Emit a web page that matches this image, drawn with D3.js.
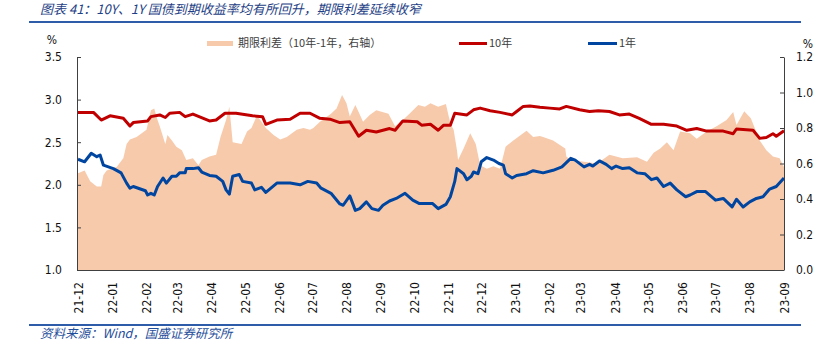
<!DOCTYPE html>
<html><head><meta charset="utf-8">
<script src="https://cdn.jsdelivr.net/npm/d3@7"></script>
<style>
body{margin:0;background:#fff;}
svg{display:block;}
</style></head>
<body><svg id="c" width="831" height="355"></svg>
<script>
const titleText = "图表 41：10Y、1Y 国债到期收益率均有所回升，期限利差延续收窄";
const sourceText = "资料来源：Wind，国盛证券研究所";
const legendLabels = ["期限利差（10年-1年，右轴）", "10年", "1年"];
const leftTicks = [1.0, 1.5, 2.0, 2.5, 3.0, 3.5];
const rightTicks = [0.0, 0.2, 0.4, 0.6, 0.8, 1.0, 1.2];
const monthTicks = ["2021-12","2022-01","2022-02","2022-03","2022-04","2022-05","2022-06","2022-07","2022-08","2022-09","2022-10","2022-11","2022-12","2023-01","2023-02","2023-03","2023-04","2023-05","2023-06","2023-07","2023-08","2023-09"];

const tenYear = [
["2021-12-01",2.85],["2021-12-15",2.85],["2021-12-22",2.76],["2021-12-30",2.81],["2022-01-11",2.78],["2022-01-17",2.69],["2022-01-20",2.73],["2022-02-02",2.75],["2022-02-05",2.80],["2022-02-13",2.82],["2022-02-18",2.79],["2022-02-22",2.84],["2022-03-03",2.85],["2022-03-08",2.80],["2022-03-15",2.83],["2022-03-30",2.75],["2022-04-05",2.76],["2022-04-13",2.84],["2022-04-23",2.84],["2022-05-08",2.81],["2022-05-17",2.80],["2022-05-20",2.71],["2022-05-30",2.76],["2022-06-11",2.77],["2022-06-20",2.84],["2022-06-29",2.84],["2022-07-08",2.78],["2022-07-17",2.77],["2022-07-26",2.73],["2022-08-04",2.74],["2022-08-12",2.57],["2022-08-19",2.64],["2022-08-28",2.62],["2022-09-09",2.66],["2022-09-14",2.64],["2022-09-21",2.75],["2022-10-04",2.74],["2022-10-08",2.70],["2022-10-16",2.71],["2022-10-23",2.64],["2022-10-28",2.70],["2022-11-03",2.70],["2022-11-07",2.84],["2022-11-18",2.82],["2022-11-24",2.88],["2022-11-30",2.90],["2022-12-09",2.87],["2022-12-18",2.85],["2022-12-29",2.82],["2023-01-02",2.86],["2023-01-08",2.92],["2023-01-14",2.925],["2023-01-23",2.91],["2023-02-01",2.90],["2023-02-10",2.89],["2023-02-16",2.92],["2023-02-28",2.88],["2023-03-09",2.86],["2023-03-17",2.87],["2023-03-27",2.86],["2023-04-05",2.82],["2023-04-14",2.83],["2023-04-23",2.78],["2023-05-04",2.71],["2023-05-15",2.71],["2023-05-27",2.69],["2023-06-05",2.64],["2023-06-14",2.66],["2023-06-23",2.63],["2023-07-08",2.63],["2023-07-17",2.60],["2023-07-20",2.655],["2023-08-04",2.64],["2023-08-10",2.545],["2023-08-16",2.555],["2023-08-22",2.60],["2023-08-25",2.57],["2023-09-01",2.635]
];

const oneYear = [
["2021-12-01",2.30],["2021-12-07",2.27],["2021-12-13",2.37],["2021-12-18",2.33],["2021-12-21",2.35],["2021-12-24",2.23],["2022-01-02",2.19],["2022-01-09",2.14],["2022-01-14",2.02],["2022-01-17",1.96],["2022-01-20",1.98],["2022-01-31",1.93],["2022-02-02",1.88],["2022-02-05",1.90],["2022-02-08",1.88],["2022-02-11",1.98],["2022-02-16",2.08],["2022-02-19",2.02],["2022-02-24",2.10],["2022-02-28",2.10],["2022-03-03",2.14],["2022-03-08",2.14],["2022-03-09",2.19],["2022-03-15",2.19],["2022-03-20",2.20],["2022-03-23",2.15],["2022-03-30",2.11],["2022-04-05",2.10],["2022-04-11",2.04],["2022-04-14",1.94],["2022-04-17",1.89],["2022-04-20",2.10],["2022-04-26",2.12],["2022-04-29",2.04],["2022-05-07",2.02],["2022-05-10",1.94],["2022-05-16",1.97],["2022-05-20",1.91],["2022-05-30",2.02],["2022-06-11",2.02],["2022-06-20",2.00],["2022-06-27",2.04],["2022-07-05",2.02],["2022-07-09",1.96],["2022-07-18",1.90],["2022-07-26",1.775],["2022-07-29",1.76],["2022-08-04",1.87],["2022-08-09",1.70],["2022-08-13",1.72],["2022-08-19",1.80],["2022-08-24",1.72],["2022-08-30",1.70],["2022-09-03",1.76],["2022-09-09",1.81],["2022-09-15",1.84],["2022-09-23",1.90],["2022-09-30",1.82],["2022-10-06",1.78],["2022-10-18",1.78],["2022-10-23",1.72],["2022-10-30",1.77],["2022-11-03",1.86],["2022-11-07",2.04],["2022-11-09",2.19],["2022-11-15",2.13],["2022-11-18",2.06],["2022-11-22",2.10],["2022-11-24",2.15],["2022-11-28",2.13],["2022-12-01",2.27],["2022-12-06",2.32],["2022-12-12",2.29],["2022-12-17",2.25],["2022-12-21",2.23],["2022-12-23",2.13],["2022-12-29",2.08],["2023-01-02",2.11],["2023-01-11",2.13],["2023-01-17",2.165],["2023-01-26",2.14],["2023-02-04",2.17],["2023-02-12",2.21],["2023-02-20",2.31],["2023-02-24",2.29],["2023-03-04",2.21],["2023-03-09",2.24],["2023-03-12",2.22],["2023-03-18",2.28],["2023-03-24",2.24],["2023-03-29",2.19],["2023-04-02",2.22],["2023-04-08",2.19],["2023-04-14",2.20],["2023-04-21",2.14],["2023-04-28",2.13],["2023-05-04",2.06],["2023-05-09",2.08],["2023-05-15",1.98],["2023-05-21",2.02],["2023-05-27",1.94],["2023-06-04",1.86],["2023-06-08",1.88],["2023-06-14",1.92],["2023-06-22",1.92],["2023-07-01",1.82],["2023-07-08",1.84],["2023-07-16",1.74],["2023-07-20",1.83],["2023-07-26",1.74],["2023-08-01",1.80],["2023-08-07",1.84],["2023-08-13",1.86],["2023-08-19",1.95],["2023-08-25",1.98],["2023-09-01",2.08]
];

const termSpread = [
["2021-12-01",0.545],["2021-12-07",0.56],["2021-12-12",0.50],["2021-12-18",0.47],["2021-12-22",0.47],["2021-12-24",0.535],["2021-12-27",0.56],["2022-01-05",0.58],["2022-01-11",0.63],["2022-01-14",0.71],["2022-01-17",0.735],["2022-01-23",0.75],["2022-02-01",0.79],["2022-02-05",0.90],["2022-02-08",0.91],["2022-02-11",0.845],["2022-02-13",0.81],["2022-02-18",0.71],["2022-02-20",0.76],["2022-02-24",0.73],["2022-02-28",0.695],["2022-03-05",0.675],["2022-03-09",0.62],["2022-03-15",0.63],["2022-03-20",0.59],["2022-03-23",0.62],["2022-03-30",0.64],["2022-04-05",0.65],["2022-04-09",0.75],["2022-04-14",0.845],["2022-04-17",0.92],["2022-04-20",0.72],["2022-04-28",0.71],["2022-05-03",0.78],["2022-05-07",0.80],["2022-05-12",0.87],["2022-05-16",0.835],["2022-05-20",0.80],["2022-05-27",0.76],["2022-06-02",0.735],["2022-06-08",0.75],["2022-06-17",0.79],["2022-06-23",0.80],["2022-06-29",0.79],["2022-07-02",0.80],["2022-07-08",0.835],["2022-07-18",0.88],["2022-07-23",0.91],["2022-07-28",0.986],["2022-08-01",0.94],["2022-08-04",0.865],["2022-08-09",0.93],["2022-08-12",0.89],["2022-08-16",0.835],["2022-08-22",0.873],["2022-08-28",0.90],["2022-09-08",0.88],["2022-09-14",0.81],["2022-09-21",0.845],["2022-09-27",0.88],["2022-10-05",0.93],["2022-10-11",0.92],["2022-10-16",0.94],["2022-10-23",0.92],["2022-10-30",0.935],["2022-11-03",0.826],["2022-11-06",0.79],["2022-11-09",0.675],["2022-11-10",0.62],["2022-11-15",0.685],["2022-11-21",0.77],["2022-11-26",0.71],["2022-11-30",0.59],["2022-12-06",0.57],["2022-12-12",0.585],["2022-12-18",0.57],["2022-12-23",0.695],["2022-12-30",0.73],["2023-01-11",0.785],["2023-01-17",0.75],["2023-01-23",0.755],["2023-01-26",0.75],["2023-02-04",0.73],["2023-02-15",0.685],["2023-02-16",0.64],["2023-02-20",0.62],["2023-03-04",0.61],["2023-03-16",0.60],["2023-03-27",0.65],["2023-04-08",0.63],["2023-04-21",0.635],["2023-04-30",0.61],["2023-05-06",0.66],["2023-05-12",0.685],["2023-05-18",0.72],["2023-05-24",0.675],["2023-05-30",0.78],["2023-06-08",0.77],["2023-06-14",0.74],["2023-06-23",0.78],["2023-07-02",0.81],["2023-07-11",0.845],["2023-07-17",0.89],["2023-07-20",0.817],["2023-07-27",0.895],["2023-08-02",0.855],["2023-08-10",0.73],["2023-08-16",0.675],["2023-08-22",0.64],["2023-08-28",0.63],["2023-09-01",0.58]
];

const parse = d3.timeParse("%Y-%m-%d");
const parseM = d3.timeParse("%Y-%m");
const svg = d3.select("#c");
const L = 77, R = 784, T = 57, B = 270;

const x = d3.scaleTime().domain([parse("2021-12-01"), parse("2023-09-01")]).range([L + 1, R]);
const yL = d3.scaleLinear().domain([1.0, 3.5]).range([B, T]);
const yR = d3.scaleLinear().domain([0, 1.2]).range([B, T]);

const font = "'DejaVu Sans Condensed','DejaVu Sans',sans-serif";
const cjk = "'Noto Sans CJK SC','Noto Sans',sans-serif";

// title
svg.append("text").attr("x", 40).attr("y", 14).attr("font-family", cjk).attr("font-size", 13)
  .attr("font-style", "italic").attr("fill", "#1f3f86").text(titleText);
svg.append("line").attr("x1", 29).attr("x2", 801).attr("y1", 22).attr("y2", 22)
  .attr("stroke", "#2e5ca8").attr("stroke-width", 2);

// area
const area = d3.area().x(d => x(parse(d[0]))).y0(yR(0)).y1(d => yR(d[1]));
svg.append("path").datum(termSpread).attr("d", area).attr("fill", "#f7caac");

const line10 = d3.line().x(d => x(parse(d[0]))).y(d => yL(d[1]));
svg.append("path").datum(tenYear).attr("d", line10).attr("fill", "none")
  .attr("stroke", "#c00000").attr("stroke-width", 3).attr("stroke-linejoin", "round");
svg.append("path").datum(oneYear).attr("d", line10).attr("fill", "none")
  .attr("stroke", "#0046a0").attr("stroke-width", 3).attr("stroke-linejoin", "round");

// axes
const axColor = "#404040";
const gL = svg.append("g").attr("transform", `translate(${L},0)`)
  .call(d3.axisLeft(yL).tickValues(leftTicks).tickFormat(d3.format(".1f")).tickSizeInner(-4).tickSizeOuter(0).tickPadding(15));
const gR = svg.append("g").attr("transform", `translate(${R},0)`)
  .call(d3.axisRight(yR).tickValues(rightTicks).tickFormat(d3.format(".1f")).tickSizeInner(-4).tickSizeOuter(0).tickPadding(12));
const gB = svg.append("g").attr("transform", `translate(0,${B})`)
  .call(d3.axisBottom(x).tickValues(monthTicks.map(m => parseM(m))).tickFormat(d3.timeFormat("%y-%m")).tickSize(0).tickSizeOuter(0));
gB.select(".domain").attr("d", `M${L},0.5H${R}`);
[gL, gR, gB].forEach(g => {
  g.select(".domain").attr("stroke", axColor);
  g.selectAll(".tick line").attr("stroke", axColor);
  g.selectAll("text").attr("font-family", font).attr("font-size", 12).attr("fill", "#111");
});
gB.selectAll(".tick text").attr("transform", "translate(0,12) rotate(-90)")
  .attr("text-anchor", "end").attr("dy", "0.35em").attr("y", 0).attr("x", 0);

svg.append("text").attr("x", 52).attr("y", 44).attr("text-anchor", "middle")
  .attr("font-family", font).attr("font-size", 12).attr("fill", "#111").text("%");
svg.append("text").attr("x", 808).attr("y", 48).attr("text-anchor", "middle")
  .attr("font-family", font).attr("font-size", 12).attr("fill", "#111").text("%");

// legend
const lg = svg.append("g").attr("font-family", cjk).attr("font-size", 11).attr("fill", "#404040");
lg.append("rect").attr("x", 207).attr("y", 41).attr("width", 26).attr("height", 5).attr("fill", "#f7caac");
lg.append("text").attr("x", 238).attr("y", 47).text(legendLabels[0]);
lg.append("line").attr("x1", 459).attr("x2", 487).attr("y1", 43.5).attr("y2", 43.5).attr("stroke", "#c00000").attr("stroke-width", 3);
lg.append("text").attr("x", 489).attr("y", 47).text(legendLabels[1]);
lg.append("line").attr("x1", 588).attr("x2", 617).attr("y1", 43.5).attr("y2", 43.5).attr("stroke", "#0046a0").attr("stroke-width", 3);
lg.append("text").attr("x", 619).attr("y", 47).text(legendLabels[2]);

// footer
svg.append("line").attr("x1", 29).attr("x2", 801).attr("y1", 325).attr("y2", 325)
  .attr("stroke", "#2e5ca8").attr("stroke-width", 2);
svg.append("text").attr("x", 40).attr("y", 338).attr("font-family", cjk).attr("font-size", 12.5)
  .attr("font-style", "italic").attr("fill", "#1f4e9a").text(sourceText);
</script></body></html>
